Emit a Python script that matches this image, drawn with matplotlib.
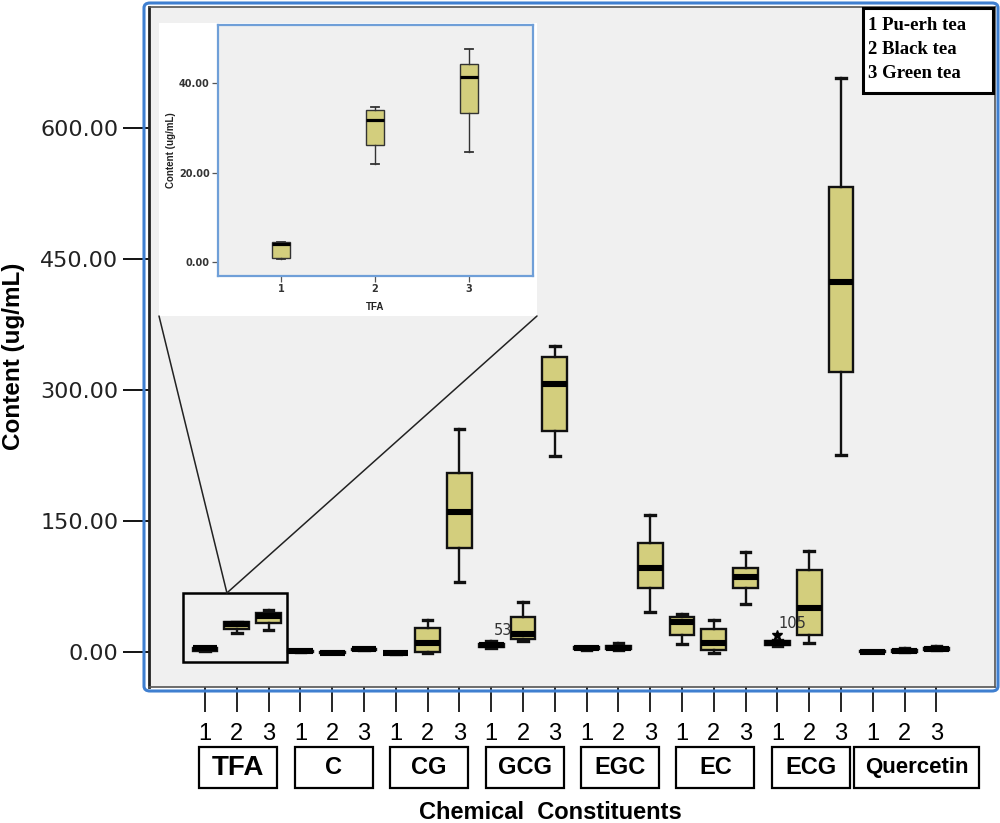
import matplotlib
matplotlib.use('Agg')
import matplotlib.pyplot as plt
from matplotlib.patches import Rectangle, FancyBboxPatch, ConnectionPatch

# tea groups and constituents
groups = ['Pu-erh tea', 'Black tea', 'Green tea']
constituents = ['TFA', 'C', 'CG', 'GCG', 'EGC', 'EC', 'ECG', 'Quercetin']

# five-number summaries per box (constituent x tea), ug/mL
whislo = [0.6, 21.9, 24.6,   0.2, -1.5, 2.0,   -2.0, -1.5, 80,   5.0, 12, 224,
          2.5, 2.5, 46,   9, -0.8, 55,   7, 10, 226,   -0.5, -0.5, 2.0]
q1 = [1.0, 26.1, 33.4,   0.5, -1.2, 2.4,   -1.6, -0.3, 119,   6.0, 15, 253,
      3.2, 3.5, 73,   20, 2.3, 73,   8, 20, 321,   0.0, 0.0, 2.5]
med = [4.0, 31.8, 41.3,   1.0, -0.8, 3.0,   -1.2, 10, 160,   7.5, 21, 307,
       4.2, 5.0, 96,   34, 10, 86,   10, 50, 424,   0.5, 0.8, 3.4]
q3 = [4.4, 34.0, 44.2,   1.5, -0.4, 3.5,   -0.8, 27, 205,   9.0, 40, 338,
      5.2, 7.0, 125,   40, 26, 96,   12, 94, 532,   1.0, 1.8, 4.5]
whishi = [4.4, 34.6, 47.7,   2.0, 0.0, 4.0,   -0.5, 37, 255,   12, 57, 350,
          6.0, 10.5, 157,   44, 37, 115,   13.5, 116, 657,   1.5, 5.0, 6.5]

# outliers (box index, value, case label)
out_pos = [18]
out_val = [19.5]
case_labels = [(18.46, 33, '105'), (9.37, 25, '53')]

# TFA zoom (inset)
tfa_whislo = [0.6, 21.9, 24.6]
tfa_q1 = [1.0, 26.1, 33.4]
tfa_med = [4.0, 31.8, 41.3]
tfa_q3 = [4.4, 34.0, 44.2]
tfa_whishi = [4.4, 34.6, 47.7]

fill = '#d3ce7d'
W, H = 1000, 823


def fx(px):
    return px / W


def fy(py):
    return 1 - py / H


def stats(lo, a, m, b, hi):
    return [dict(whislo=w, q1=x, med=y, q3=z, whishi=v, fliers=[])
            for w, x, y, z, v in zip(lo, a, m, b, hi)]


fig = plt.figure(figsize=(10, 8.23), dpi=100)
fig.patch.set_facecolor('white')

ax = fig.add_axes([fx(149), fy(687), fx(995) - fx(149), fy(7) - fy(687)])
ax.set_facecolor('#f0f0f0')

n = len(med)
pos = list(range(n))
ax.bxp(stats(whislo, q1, med, q3, whishi), positions=pos, widths=0.78,
       patch_artist=True, showfliers=False, capwidths=0.3,
       boxprops=dict(facecolor=fill, edgecolor='#111111', linewidth=1.7),
       medianprops=dict(color='black', linewidth=4.4, solid_capstyle='butt'),
       whiskerprops=dict(color='#111111', linewidth=1.7),
       capprops=dict(color='#111111', linewidth=2.4))
ax.plot(out_pos, out_val, ls='none', marker='*', ms=7, color='black')
for x, y, s in case_labels:
    ax.text(x, y, s, ha='center', va='center', fontsize=10.5, color='#333333')

ax.set_xlim(-1.76, 24.84)
ax.set_ylim(-40.1, 738.5)
ax.set_yticks([0, 150, 300, 450, 600])
ax.set_yticklabels(['%.2f' % v for v in [0, 150, 300, 450, 600]],
                   fontsize=16, family='DejaVu Sans', color='#222222')
ax.set_xticks(pos)
ax.set_xticklabels([str(i % 3 + 1) for i in pos], fontsize=17,
                   family='Liberation Sans')
ax.tick_params(axis='y', direction='out', length=19, width=1.3, pad=3)
ax.tick_params(axis='x', direction='out', length=18, width=1.2, pad=8)
for s in ax.spines.values():
    s.set_color('#555555')
    s.set_linewidth(1.2)
ax.spines['left'].set_color('#222222')
ax.spines['left'].set_linewidth(2)

ax.set_ylabel('Content (ug/mL)', fontsize=17.5, fontweight='bold',
              family='Liberation Sans')
ax.yaxis.set_label_coords(-0.147, 0.486)
ax.set_xlabel('Chemical  Constituents', fontsize=17, fontweight='bold',
              family='Liberation Sans')
ax.xaxis.set_label_coords(0.475, -0.168)

# category boxes under the tick labels
tr = ax.get_xaxis_transform()
for g, name in enumerate(constituents):
    if name == 'Quercetin':
        c, w, fs = 22.37, 3.94, 16
    else:
        c, w, fs = 3 * g + 1.05, 2.45, 17
    if name == 'TFA':
        fs = 20
    ax.add_patch(Rectangle((c - w / 2, -0.1485), w, 0.0603, transform=tr,
                           fill=False, ec='black', lw=1.6, clip_on=False))
    ax.text(c, -0.1184, name, transform=tr, ha='center', va='center',
            fontsize=fs, fontweight='bold', family='Liberation Sans')

# highlight around TFA
ax.add_patch(Rectangle((-0.69, -11.5), 3.27, 79.1, fill=False,
                       ec='black', lw=1.8, zorder=5))

# inset background and inset axes
bg = fig.add_axes([fx(159), fy(316), fx(537) - fx(159), fy(23) - fy(316)])
bg.set_facecolor('white')
bg.set_xticks([])
bg.set_yticks([])
for s in bg.spines.values():
    s.set_visible(False)

ins = fig.add_axes([fx(218), fy(276), fx(533) - fx(218), fy(25) - fy(276)])
ins.set_facecolor('#f0f0f0')
ins.bxp(stats(tfa_whislo, tfa_q1, tfa_med, tfa_q3, tfa_whishi),
        positions=[1, 2, 3], widths=0.2, patch_artist=True,
        showfliers=False, capwidths=0.09,
        boxprops=dict(facecolor=fill, edgecolor='#333333', linewidth=1),
        medianprops=dict(color='black', linewidth=2.3, solid_capstyle='butt'),
        whiskerprops=dict(color='#333333', linewidth=1),
        capprops=dict(color='#333333', linewidth=1.3))
ins.set_xlim(0.33, 3.68)
ins.set_ylim(-3.1, 53)
ins.set_yticks([0, 20, 40])
ins.set_yticklabels(['%.2f' % v for v in [0, 20, 40]], fontsize=7,
                    fontweight='bold', color='#333333')
ins.set_xticks([1, 2, 3])
ins.set_xticklabels(['1', '2', '3'], fontsize=7, fontweight='bold',
                    color='#333333')
ins.tick_params(direction='out', length=4.5, width=0.9, color='#555555', pad=1.5)
for s in ins.spines.values():
    s.set_color('#6f9fd8')
    s.set_linewidth(1.6)
ins.set_ylabel('Content (ug/mL)', fontsize=7, fontweight='bold',
               family='Liberation Sans', color='#222222')
ins.yaxis.set_label_coords(-0.133, 0.5)
ins.set_xlabel('TFA', fontsize=7, fontweight='bold',
               family='Liberation Sans', color='#222222')
ins.xaxis.set_label_coords(0.5, -0.105)

# zoom lines from highlight box to the inset
for corner in [(0, 0), (1, 0)]:
    cp = ConnectionPatch(xyA=(0.69, 67.6), coordsA=ax.transData,
                         xyB=corner, coordsB=bg.transAxes,
                         color='#222222', lw=1.1)
    fig.add_artist(cp)

# blue outer frame
fig.patches.append(FancyBboxPatch(
    (fx(144), fy(691)), fx(998) - fx(144), fy(3) - fy(691),
    boxstyle='round,pad=0,rounding_size=0.006', transform=fig.transFigure,
    fill=False, ec='#3f7fd0', lw=2.2, zorder=3))

# group legend
fig.patches.append(Rectangle((fx(863), fy(93)), fx(993) - fx(863),
                             fy(8) - fy(93), transform=fig.transFigure,
                             fc='white', ec='black', lw=2.2, zorder=4))
for i, gname in enumerate(groups):
    fig.text(fx(868), fy(25 + 24 * i), '%d %s' % (i + 1, gname),
             ha='left', va='center', fontsize=13.5, fontweight='bold',
             family='Liberation Serif', zorder=5)

fig.savefig('out.png', dpi=100)
